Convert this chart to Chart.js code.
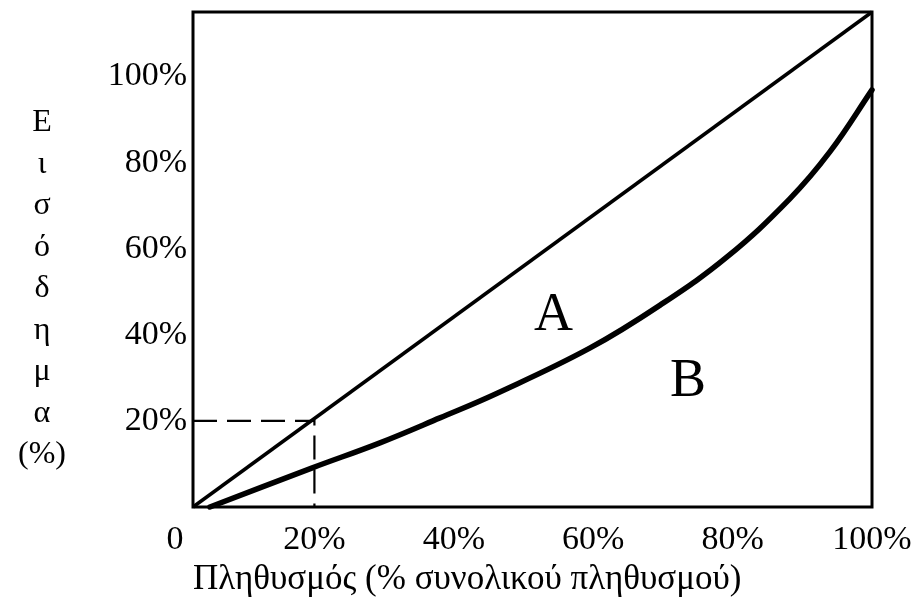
<!DOCTYPE html>
<html>
<head>
<meta charset="utf-8">
<script src="https://cdn.jsdelivr.net/npm/chart.js@4.4.1/dist/chart.umd.min.js"></script>
<style>
html, body { margin: 0; padding: 0; background: #fff; }
#wrap { width: 921px; height: 605px; }
</style>
</head>
<body>
<div id="wrap"><canvas id="myChart" width="921" height="605"></canvas></div>
<script>
// tick labels
const xTicks = [0, 20, 40, 60, 80, 100];
const yTicks = [20, 40, 60, 80, 100];

// line of equality (runs corner to corner of the box)
const equalityX = [2.58, 100];
const equalityY = [0, 115];

// Lorenz curve
const lorenzX = [5, 19.7, 29.4, 38.0, 46.3, 59.5, 69.6, 79.2, 88.2, 94.0, 100];
const lorenzY = [0, 9.1, 14.9, 20.7, 26.5, 36.9, 46.9, 58.1, 71.6, 82.6, 96.9];

// dashed guide at 20% population / 20% income
const guideX = [2.58, 20, 20];
const guideY = [20, 20, 0];

// region letters
const regionText = ['A', 'B'];
const regionX = [54.3, 73.6];
const regionY = [44.5, 29.2];

const yTitle = ['Ε', 'ι', 'σ', 'ό', 'δ', 'η', 'μ', 'α', '(%)'];
const xTitle = 'Πληθυσμός (% συνολικού πληθυσμού)';

const SERIF = '"Liberation Serif", "DejaVu Serif", serif';

function toPoints(xs, ys) {
    return xs.map(function (v, i) { return { x: v, y: ys[i] }; });
}

const framePlugin = {
    id: 'frame',
    afterDatasetsDraw(chart) {
        const ctx = chart.ctx;
        const a = chart.chartArea;
        const xs = chart.scales.x, ys = chart.scales.y;
        ctx.save();
        ctx.strokeStyle = '#000';
        ctx.lineWidth = 3;
        ctx.strokeRect(a.left, a.top, a.right - a.left, a.bottom - a.top);

        // A and B
        ctx.fillStyle = '#000';
        ctx.font = '54px ' + SERIF;
        ctx.textAlign = 'center';
        ctx.textBaseline = 'middle';
        regionText.forEach(function (t, i) {
            ctx.fillText(t, xs.getPixelForValue(regionX[i]), ys.getPixelForValue(regionY[i]));
        });

        // stacked vertical y title
        ctx.font = '32px ' + SERIF;
        ctx.textBaseline = 'alphabetic';
        yTitle.forEach(function (t, i) {
            ctx.fillText(t, 42, 131 + i * 41.5);
        });
        ctx.restore();
    }
};

new Chart(document.getElementById('myChart'), {
    type: 'line',
    data: {
        datasets: [
            {
                label: 'Ισότητα',
                data: toPoints(equalityX, equalityY),
                borderColor: '#000',
                borderWidth: 3.5,
                pointRadius: 0,
                clip: false
            },
            {
                label: 'Καμπύλη Lorenz',
                data: toPoints(lorenzX, lorenzY),
                borderColor: '#000',
                borderWidth: 5.5,
                pointRadius: 0,
                tension: 0.4,
                borderCapStyle: 'round',
                clip: false
            },
            {
                label: '20%',
                data: toPoints(guideX, guideY),
                borderColor: '#000',
                borderWidth: 2.2,
                borderDash: [24, 10],
                pointRadius: 0,
                clip: false
            }
        ]
    },
    options: {
        responsive: false,
        animation: false,
        layout: { padding: { top: 12, right: 49, left: 0, bottom: 0 } },
        plugins: {
            legend: { display: false },
            tooltip: { enabled: false }
        },
        scales: {
            x: {
                type: 'linear',
                min: 2.58,
                max: 100,
                afterBuildTicks: function (scale) {
                    scale.ticks = xTicks.map(function (v) { return { value: v }; });
                },
                afterFit: function (scale) {
                    scale.height = 98;
                    scale.paddingLeft = 0;
                    scale.paddingRight = 0;
                },
                grid: { display: false, drawTicks: false },
                border: { display: false },
                ticks: {
                    color: '#000',
                    padding: 13,
                    font: { family: SERIF, size: 34 },
                    callback: function (v) { return v === 0 ? '0' : v + '%'; }
                },
                title: {
                    display: true,
                    text: xTitle,
                    align: 'start',
                    color: '#000',
                    font: { family: SERIF, size: 35 },
                    padding: { top: 0, bottom: 4 }
                }
            },
            y: {
                type: 'linear',
                min: 0,
                max: 115,
                afterBuildTicks: function (scale) {
                    scale.ticks = yTicks.map(function (v) { return { value: v }; });
                },
                afterFit: function (scale) {
                    scale.width = 193;
                    scale.paddingTop = 0;
                    scale.paddingBottom = 0;
                },
                grid: { display: false, drawTicks: false },
                border: { display: false },
                ticks: {
                    color: '#000',
                    padding: 6,
                    font: { family: SERIF, size: 34 },
                    callback: function (v) { return v + '%'; }
                }
            }
        }
    },
    plugins: [framePlugin]
});
</script>
</body>
</html>
